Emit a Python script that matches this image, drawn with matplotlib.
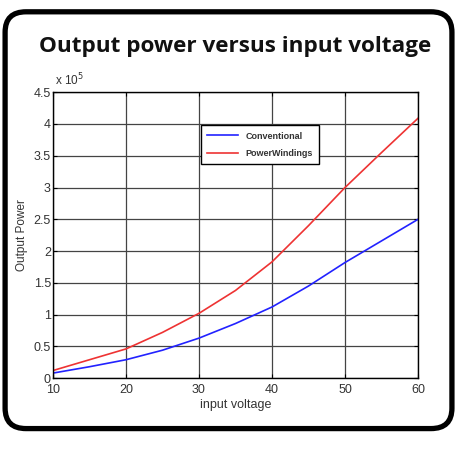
import numpy as np
import matplotlib.pyplot as plt
from matplotlib.patches import FancyBboxPatch
from matplotlib.ticker import FuncFormatter

# valeurs (puissance en W)
voltage = [10, 15, 20, 25, 30, 35, 40, 45, 50, 55, 60]
conventional = [0.08, 0.18, 0.29, 0.44, 0.63, 0.86, 1.12, 1.45, 1.82, 2.16, 2.50]
power_windings = [0.12, 0.29, 0.46, 0.72, 1.02, 1.38, 1.83, 2.40, 3.00, 3.55, 4.09]
scale = 1e5

x_ticks = [10, 20, 30, 40, 50, 60]
y_ticks = [0, 0.5, 1, 1.5, 2, 2.5, 3, 3.5, 4, 4.5]

plt.rcParams['font.family'] = ['Liberation Sans', 'DejaVu Sans']

fig = plt.figure(figsize=(4.64, 4.54), dpi=100)

# cadre arrondi autour de tout
frame = FancyBboxPatch((0.011, 0.056), 0.963, 0.918, transform=fig.transFigure,
                       boxstyle='round,pad=0,rounding_size=0.045', facecolor='white',
                       edgecolor='black', linewidth=3.8, zorder=-1)
fig.patches.append(frame)

fig.text(0.507, 0.885, 'Output power versus input voltage', ha='center', va='baseline',
         fontsize=16.2, fontweight='bold', family=['Open Sans', 'DejaVu Sans'], color='#111111')

ax = fig.add_axes([0.114, 0.167, 0.787, 0.630])
y_conv = np.array(conventional) * scale
y_pw = np.array(power_windings) * scale
ax.plot(voltage, y_conv, color='#2222ff', lw=1.2, label='Conventional')
ax.plot(voltage, y_pw, color='#ee3333', lw=1.2, label='PowerWindings')

ax.set_xlim(10, 60)
ax.set_ylim(0, 4.5 * scale)
ax.set_xticks(x_ticks)
ax.set_yticks(np.array(y_ticks) * scale)
ax.yaxis.set_major_formatter(FuncFormatter(lambda v, p: f'{v / scale:g}'))
ax.text(0.005, 1.012, r'x 10$^5$', transform=ax.transAxes, fontsize=8.5,
        color='#333333', ha='left', va='bottom')

ax.grid(True, color='#444444', lw=0.9)
ax.tick_params(direction='in', top=True, right=True, length=3, labelsize=9,
               labelcolor='#333333')
ax.tick_params(axis='x', pad=4)
ax.tick_params(axis='y', pad=1.5)
for s in ax.spines.values():
    s.set_linewidth(1.0)

ax.set_xlabel('input voltage', fontsize=9, color='#333333', labelpad=2.5)
ax.set_ylabel('Output Power', fontsize=8.5, color='#333333', labelpad=4)

leg = ax.legend(loc='upper left', bbox_to_anchor=(0.393, 0.9), fontsize=6.5,
                fancybox=False, edgecolor='black', framealpha=1, handlelength=3.4,
                borderpad=0.7, labelspacing=0.95)
leg.get_frame().set_linewidth(1.0)
for t in leg.get_texts():
    t.set_fontweight('bold')
    t.set_color('#333333')

fig.savefig('out.png', dpi=100)
